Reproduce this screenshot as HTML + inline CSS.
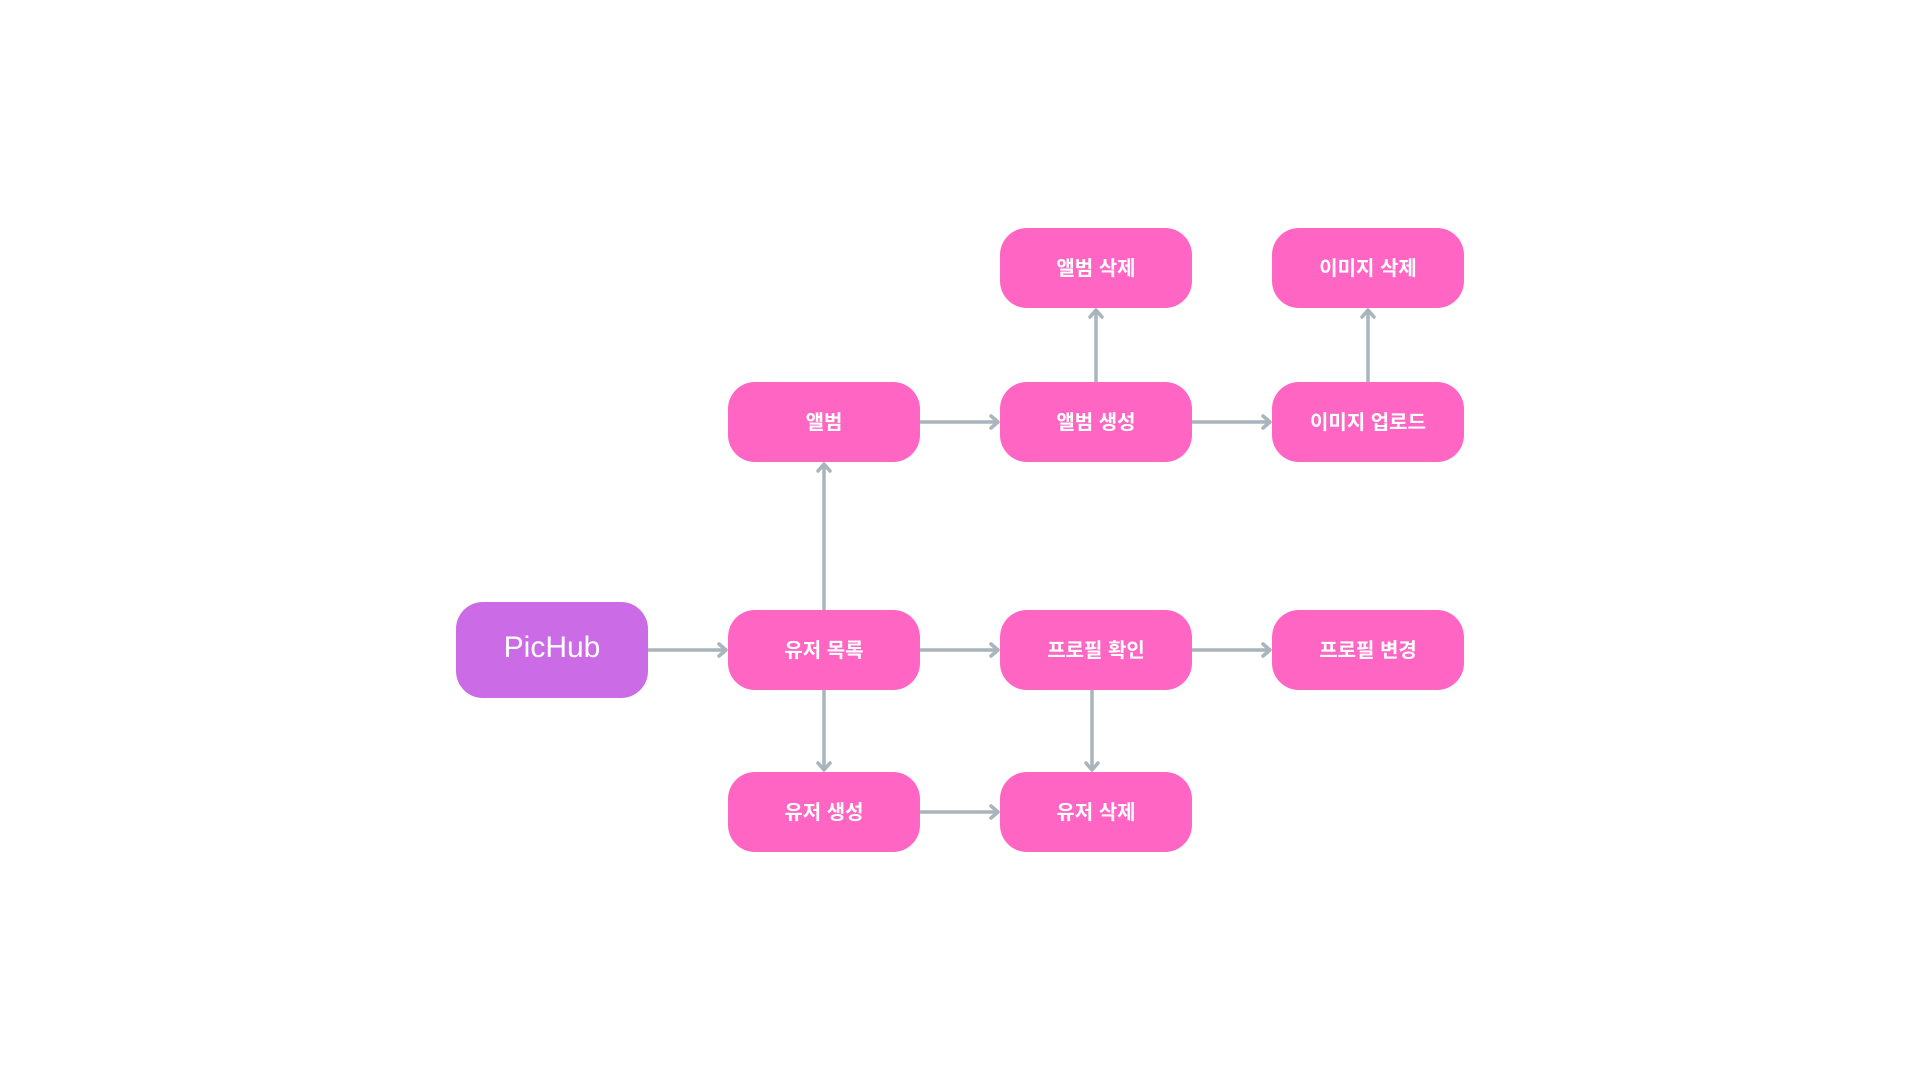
<!DOCTYPE html>
<html><head><meta charset="utf-8"><style>
html,body{margin:0;padding:0;background:#fff;width:1920px;height:1080px;overflow:hidden}
.n{position:absolute;width:192px;height:80px;border-radius:27px;background:#ff66c4;color:#fff;display:flex;align-items:center;justify-content:center;font-family:"Liberation Sans","Noto Sans CJK KR","NanumGothic",sans-serif;font-weight:bold;font-size:20px;box-sizing:border-box;padding-bottom:4px}
svg{position:absolute;left:0;top:0}
</style></head><body>
<svg width="1920" height="1080">
<defs><marker id="a" markerWidth="14" markerHeight="16" refX="11" refY="8" orient="auto" markerUnits="userSpaceOnUse"><path d="M4,2 L11,8 L4,14" fill="none" stroke="#a9b4bc" stroke-width="3.5" stroke-linecap="round" stroke-linejoin="round"/></marker></defs>
<g stroke="#a9b4bc" stroke-width="3.5" fill="none" marker-end="url(#a)">
<line x1="648" y1="650" x2="726" y2="650"/>
<line x1="920" y1="650" x2="998" y2="650"/>
<line x1="1192" y1="650" x2="1270" y2="650"/>
<line x1="824" y1="610" x2="824" y2="464"/>
<line x1="824" y1="690" x2="824" y2="770"/>
<line x1="1092" y1="690" x2="1092" y2="770"/>
<line x1="920" y1="812" x2="998" y2="812"/>
<line x1="920" y1="422" x2="998" y2="422"/>
<line x1="1192" y1="422" x2="1270" y2="422"/>
<line x1="1096" y1="382" x2="1096" y2="310"/>
<line x1="1368" y1="382" x2="1368" y2="310"/>
</g>
</svg>
<div class="n" style="left:456px;top:602px;width:192px;height:96px;background:#cb6ce6;font-weight:normal;font-size:30px">PicHub</div>
<div class="n" style="left:728px;top:610px">유저 목록</div>
<div class="n" style="left:728px;top:772px">유저 생성</div>
<div class="n" style="left:728px;top:382px">앨범</div>
<div class="n" style="left:1000px;top:610px">프로필 확인</div>
<div class="n" style="left:1000px;top:772px">유저 삭제</div>
<div class="n" style="left:1000px;top:382px">앨범 생성</div>
<div class="n" style="left:1000px;top:228px">앨범 삭제</div>
<div class="n" style="left:1272px;top:610px">프로필 변경</div>
<div class="n" style="left:1272px;top:382px">이미지 업로드</div>
<div class="n" style="left:1272px;top:228px">이미지 삭제</div>
</body></html>
